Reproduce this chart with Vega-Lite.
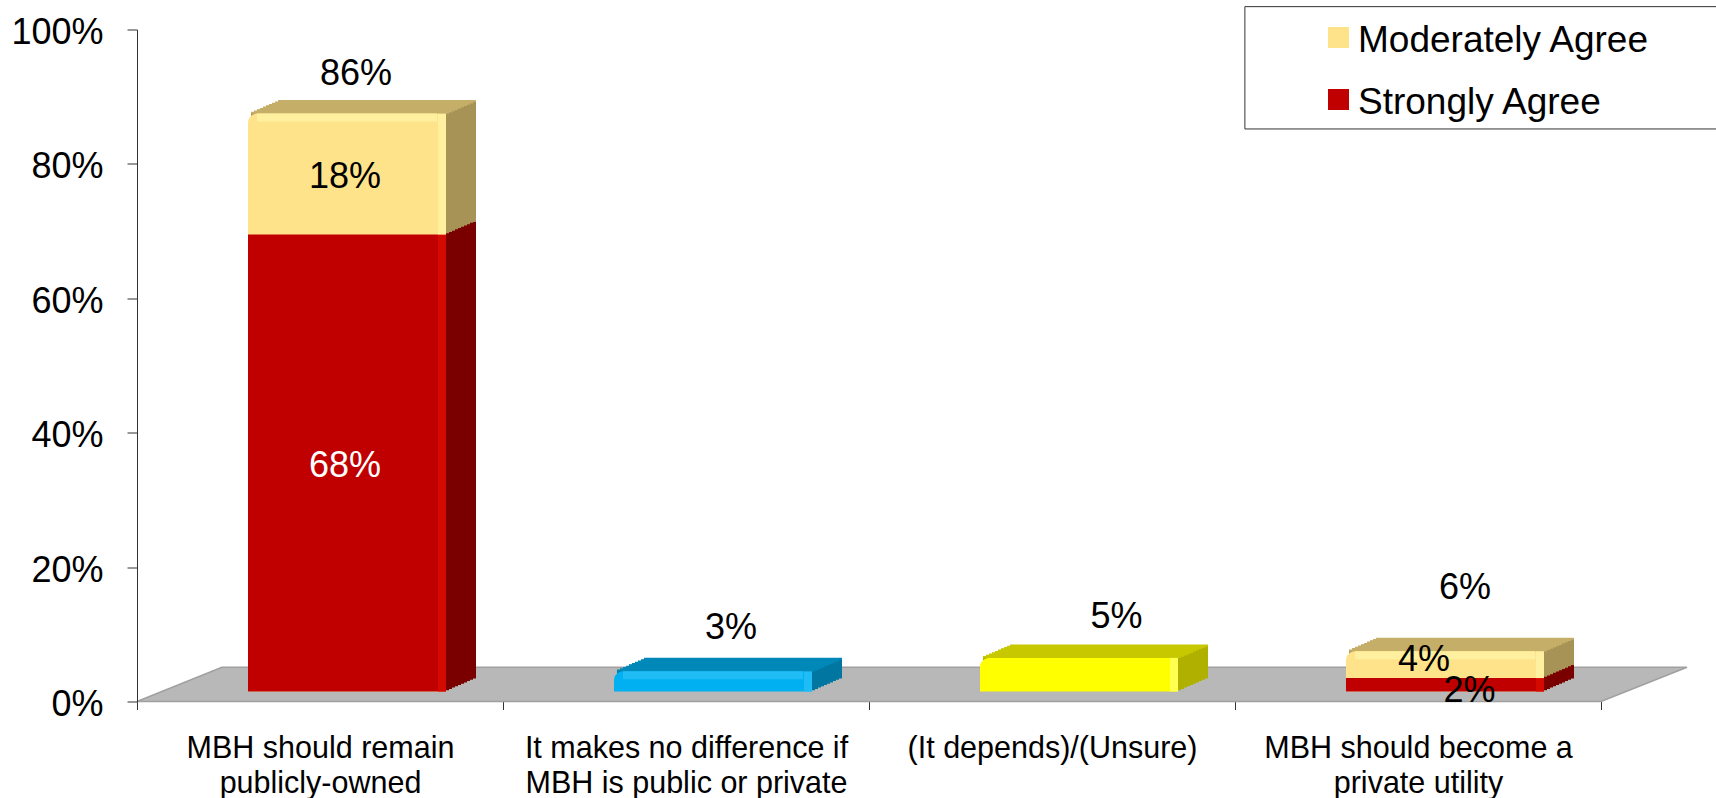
{
"$schema":"https://vega.github.io/schema/vega-lite/v6.json",
"width":1464,"height":672,
"autosize":"none",
"padding":{"left":137,"top":29.5,"right":115,"bottom":96.5},
"background":"white",
"config":{"view":{"stroke":null},"font":"Liberation Sans"},
"data":{"values":[
{"category":"MBH should remain publicly-owned","series":"Strongly Agree","value":0.68},
{"category":"MBH should remain publicly-owned","series":"Moderately Agree","value":0.18},
{"category":"It makes no difference if MBH is public or private","series":"No difference","value":0.03},
{"category":"(It depends)/(Unsure)","series":"Unsure","value":0.05},
{"category":"MBH should become a private utility","series":"Strongly Agree","value":0.02},
{"category":"MBH should become a private utility","series":"Moderately Agree","value":0.04}
]},
"resolve":{"scale":{"x":"independent"},"axis":{"x":"independent"}},
"layer":[
{"data":{"values":[{"u":0,"low":0,"high":0},{"u":0.232,"low":0,"high":0.051},{"u":4,"low":0,"high":0.051},{"u":4.235,"low":0.051,"high":0.051}]},
 "mark":{"type":"area","color":"#b8b8b8","stroke":"#a0a0a0","strokeWidth":1.5},
 "encoding":{"x":{"field":"u","type":"quantitative","scale":{"domain":[0,4],"nice":false,"zero":false},"axis":null},
 "y":{"field":"low","type":"quantitative","scale":{"domain":[0,1],"nice":false},
   "axis":{"title":null,"values":[0,0.2,0.4,0.6,0.8,1],"format":".0%","grid":false,"domainColor":"#333333","tickColor":"#333333","tickSize":10,"labelFontSize":36,"labelColor":"#000000","labelPadding":24,"labelFont":"Liberation Sans","labelOffset":3,"zindex":1}},"y2":{"field":"high"}}},
{"data":{"values":[{}]},
 "mark":{"type":"rect","fill":"white","stroke":"#333333","strokeWidth":1},
 "encoding":{"x":{"datum":3.027,"type":"quantitative","scale":{"domain":[0,4],"nice":false,"zero":false},"axis":null},"x2":{"datum":4.4},
 "y":{"datum":1.034,"type":"quantitative"},"y2":{"datum":0.852}}},
{"encoding":{"x":{"field":"category","type":"nominal","sort":null,
  "scale":{"domain":["MBH should remain publicly-owned","It makes no difference if MBH is public or private","(It depends)/(Unsure)","MBH should become a private utility"],"paddingInner":0,"paddingOuter":0},
  "axis":{"title":null,"labelAngle":0,"domain":false,"tickBand":"extent","tickSize":8,"tickColor":"#333333","labelFontSize":30.5,"labelColor":"#000000","labelPadding":24,"labelLineHeight":35,"labelLimit":400,"labelFont":"Liberation Sans","grid":false,
  "labelExpr":"datum.label=='MBH should remain publicly-owned'?['MBH should remain','publicly-owned']:datum.label=='It makes no difference if MBH is public or private'?['It makes no difference if','MBH is public or private']:datum.label=='MBH should become a private utility'?['MBH should become a','private utility']:datum.label"}}},
 "layer":[
 {"encoding":{
   "y":{"field":"value","type":"quantitative","stack":"zero"},
   "order":{"field":"series","sort":"descending"},
   "detail":{"field":"series"},
   "color":{"condition":[{"test":"datum.series=='Strongly Agree'","value":"#7a0000"},{"test":"datum.series=='Moderately Agree'","value":"#a89356"},{"test":"datum.series=='No difference'","value":"#0076a0"}],"value":"#b0b000"}},
  "layer":[
  {"mark":{"type":"bar","width":198,"xOffset":57,"yOffset":-23,"y2Offset":-23}},
  {"mark":{"type":"bar","width":198,"xOffset":54,"yOffset":-21.7,"y2Offset":-21.7}},
  {"mark":{"type":"bar","width":198,"xOffset":51,"yOffset":-20.4,"y2Offset":-20.4}},
  {"mark":{"type":"bar","width":198,"xOffset":48,"yOffset":-19.1,"y2Offset":-19.1}},
  {"mark":{"type":"bar","width":198,"xOffset":45,"yOffset":-17.8,"y2Offset":-17.8}},
  {"mark":{"type":"bar","width":198,"xOffset":42,"yOffset":-16.5,"y2Offset":-16.5}},
  {"mark":{"type":"bar","width":198,"xOffset":39,"yOffset":-15.2,"y2Offset":-15.2}},
  {"mark":{"type":"bar","width":198,"xOffset":36,"yOffset":-13.9,"y2Offset":-13.9}},
  {"mark":{"type":"bar","width":198,"xOffset":33,"yOffset":-12.6,"y2Offset":-12.6}},
  {"mark":{"type":"bar","width":198,"xOffset":30,"yOffset":-11.3,"y2Offset":-11.3}}
  ]},
 {"encoding":{
   "y":{"aggregate":"sum","field":"value","type":"quantitative"},
   "size":{"value":198},
   "color":{"condition":[{"test":"datum.category=='It makes no difference if MBH is public or private'","value":"#0088b8"},{"test":"datum.category=='(It depends)/(Unsure)'","value":"#c8c800"}],"value":"#c5ae68"}},
  "layer":[
  {"mark":{"type":"tick","orient":"horizontal","thickness":2,"xOffset":57,"yOffset":-22.5}},
  {"mark":{"type":"tick","orient":"horizontal","thickness":2,"xOffset":54,"yOffset":-21.2}},
  {"mark":{"type":"tick","orient":"horizontal","thickness":2,"xOffset":51,"yOffset":-19.9}},
  {"mark":{"type":"tick","orient":"horizontal","thickness":2,"xOffset":48,"yOffset":-18.6}},
  {"mark":{"type":"tick","orient":"horizontal","thickness":2,"xOffset":45,"yOffset":-17.3}},
  {"mark":{"type":"tick","orient":"horizontal","thickness":2,"xOffset":42,"yOffset":-16}},
  {"mark":{"type":"tick","orient":"horizontal","thickness":2,"xOffset":39,"yOffset":-14.7}},
  {"mark":{"type":"tick","orient":"horizontal","thickness":2,"xOffset":36,"yOffset":-13.4}},
  {"mark":{"type":"tick","orient":"horizontal","thickness":2,"xOffset":33,"yOffset":-12.1}},
  {"mark":{"type":"tick","orient":"horizontal","thickness":2,"xOffset":30,"yOffset":-10.8}}
  ]},
 {"mark":{"type":"bar","width":198,"xOffset":27,"yOffset":-10,"y2Offset":-10,"cornerRadiusTopLeft":9,"cornerRadiusTopRight":9},
  "encoding":{
   "y":{"aggregate":"sum","field":"value","type":"quantitative"},
   "y2":{"datum":0},
   "color":{"condition":[{"test":"datum.category=='It makes no difference if MBH is public or private'","value":"#00b0f0"},{"test":"datum.category=='(It depends)/(Unsure)'","value":"#ffff00"}],"value":"#ffe38b"}}},
 {"transform":[{"filter":"datum.series=='Strongly Agree'"}],
  "mark":{"type":"bar","width":198,"xOffset":27,"yOffset":-10,"y2Offset":-10},
  "encoding":{"y":{"field":"value","type":"quantitative"},
   "color":{"field":"series","type":"nominal","scale":{"domain":["Moderately Agree","Strongly Agree","No difference","Unsure"],"range":["#ffe38b","#c00000","#00b0f0","#ffff00"]},
    "legend":{"values":["Moderately Agree","Strongly Agree"],"title":null,"orient":"none","legendX":1183,"legendY":-10.5,"symbolType":"square","symbolSize":441,"symbolStrokeWidth":0,"labelFontSize":37,"labelColor":"#000000","labelFont":"Liberation Sans","labelOffset":1,"rowPadding":22,"labelLimit":400,"padding":0,"encode":{"labels":{"update":{"dy":{"value":3}}}}}}}},
 {"transform":[{"filter":"datum.category!='(It depends)/(Unsure)'"}],
  "mark":{"type":"tick","orient":"horizontal","thickness":8,"xOffset":27,"yOffset":-6},
  "encoding":{
   "y":{"aggregate":"sum","field":"value","type":"quantitative"},
   "size":{"value":180},
   "color":{"condition":[{"test":"datum.category=='It makes no difference if MBH is public or private'","value":"#20bcf6"}],"value":"#fff0a0"}}},
 {"mark":{"type":"bar","width":8,"xOffset":122,"yOffset":-10,"y2Offset":-10},
  "encoding":{
   "y":{"field":"value","type":"quantitative","stack":"zero"},
   "order":{"field":"series","sort":"descending"},
   "detail":{"field":"series"},
   "color":{"condition":[{"test":"datum.series=='Strongly Agree'","value":"#d40a00"},{"test":"datum.series=='Moderately Agree'","value":"#fff0a0"},{"test":"datum.series=='No difference'","value":"#20bcf6"}],"value":"#ffff50"}}},
 {"transform":[{"filter":"datum.category=='MBH should remain publicly-owned'"}],
  "mark":{"type":"text","fontSize":36,"font":"Liberation Sans","baseline":"middle","dx":25,"dy":-7.5},
  "encoding":{
   "y":{"field":"value","type":"quantitative","stack":"zero","bandPosition":0.5},
   "order":{"field":"series","sort":"descending"},
   "detail":{"field":"series"},
   "text":{"field":"value","type":"quantitative","format":".0%"},
   "color":{"condition":{"test":"datum.series=='Strongly Agree'","value":"#ffffff"},"value":"#000000"}}},
 {"transform":[{"filter":"datum.category=='MBH should become a private utility' && datum.series=='Moderately Agree'"}],
  "mark":{"type":"text","fontSize":36,"font":"Liberation Sans","baseline":"middle","dx":6,"dy":-15,"color":"#000000"},
  "encoding":{"y":{"field":"value","type":"quantitative"},"text":{"field":"value","type":"quantitative","format":".0%"}}},
 {"transform":[{"filter":"datum.category=='MBH should become a private utility' && datum.series=='Strongly Agree'"}],
  "mark":{"type":"text","fontSize":36,"font":"Liberation Sans","baseline":"middle","dx":51.5,"dy":3,"color":"#000000"},
  "encoding":{"y":{"field":"value","type":"quantitative"},"text":{"field":"value","type":"quantitative","format":".0%"}}},
 {"transform":[{"filter":"datum.category=='MBH should remain publicly-owned'"}],
  "mark":{"type":"text","fontSize":36,"font":"Liberation Sans","baseline":"middle","dx":36,"dy":-50,"color":"#000000"},
  "encoding":{"y":{"aggregate":"sum","field":"value","type":"quantitative"},"text":{"aggregate":"sum","field":"value","type":"quantitative","format":".0%"}}},
 {"transform":[{"filter":"datum.category=='It makes no difference if MBH is public or private'"}],
  "mark":{"type":"text","fontSize":36,"font":"Liberation Sans","baseline":"middle","dx":45,"dy":-53,"color":"#000000"},
  "encoding":{"y":{"aggregate":"sum","field":"value","type":"quantitative"},"text":{"aggregate":"sum","field":"value","type":"quantitative","format":".0%"}}},
 {"transform":[{"filter":"datum.category=='(It depends)/(Unsure)'"}],
  "mark":{"type":"text","fontSize":36,"font":"Liberation Sans","baseline":"middle","dx":64.5,"dy":-51,"color":"#000000"},
  "encoding":{"y":{"aggregate":"sum","field":"value","type":"quantitative"},"text":{"aggregate":"sum","field":"value","type":"quantitative","format":".0%"}}},
 {"transform":[{"filter":"datum.category=='MBH should become a private utility'"}],
  "mark":{"type":"text","fontSize":36,"font":"Liberation Sans","baseline":"middle","dx":47,"dy":-73,"color":"#000000"},
  "encoding":{"y":{"aggregate":"sum","field":"value","type":"quantitative"},"text":{"aggregate":"sum","field":"value","type":"quantitative","format":".0%"}}}
 ]}
]}
